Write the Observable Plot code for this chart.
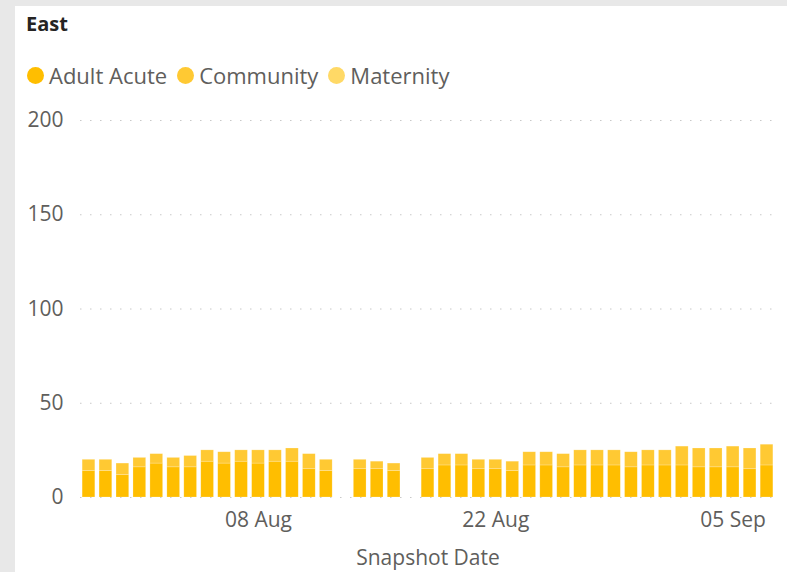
<!DOCTYPE html>
<html>
<head>
<meta charset="utf-8">
<script src="https://cdn.jsdelivr.net/npm/d3@7"></script>
<script src="https://cdn.jsdelivr.net/npm/@observablehq/plot@0.6"></script>
<style>
html, body { margin: 0; padding: 0; width: 787px; height: 572px; overflow: hidden; background: #e8e8e8; font-family: "Open Sans", sans-serif; }
#panel { position: absolute; left: 15px; top: 6px; width: 772px; height: 566px; background: #ffffff; }
#title { position: absolute; left: 26px; top: 10px; font-weight: 700; font-size: 20px; color: #252423; }
#legend { position: absolute; left: 27px; top: 60px; display: flex; align-items: center; font-size: 22px; color: #605e5c; }
.item { display: flex; align-items: center; margin-right: 10px; }
.dot { width: 17px; height: 17px; border-radius: 50%; margin-right: 5px; }
#chart { position: absolute; left: 0; top: 100px; }
</style>
</head>
<body>
<div id="panel"></div>
<div id="title">East</div>
<div id="legend"></div>
<div id="chart"></div>
<script>
// ---- data ----
const dates = [
  "2021-07-29","2021-07-30","2021-07-31","2021-08-01","2021-08-02","2021-08-03","2021-08-04",
  "2021-08-05","2021-08-06","2021-08-07","2021-08-08","2021-08-09","2021-08-10","2021-08-11",
  "2021-08-12","2021-08-14","2021-08-15","2021-08-16","2021-08-18","2021-08-19","2021-08-20",
  "2021-08-21","2021-08-22","2021-08-23","2021-08-24","2021-08-25","2021-08-26","2021-08-27",
  "2021-08-28","2021-08-29","2021-08-30","2021-08-31","2021-09-01","2021-09-02","2021-09-03",
  "2021-09-04","2021-09-05","2021-09-06","2021-09-07"
];
const adultAcute = [14,14,12,16,18,16,16,19,18,19,18,19,19,15,14,15,15,14,15,17,17,15,15,14,17,17,16,17,17,17,16,17,17,17,16,16,16,15,17];
const community  = [ 6, 6, 6, 5, 5, 5, 6, 6, 6, 6, 7, 6, 7, 8, 6, 5, 4, 4, 6, 6, 6, 5, 5, 5, 7, 7, 7, 8, 8, 8, 8, 8, 8,10,10,10,11,11,11];
const maternity  = [ 0, 0, 0, 0, 0, 0, 0, 0, 0, 0, 0, 0, 0, 0, 0, 0, 0, 0, 0, 0, 0, 0, 0, 0, 0, 0, 0, 0, 0, 0, 0, 0, 0, 0, 0, 0, 0, 0, 0];
const categories = ["Adult Acute", "Community", "Maternity"];
const colors = ["#FFBE00", "#FFC933", "#FFD966"];
const yTicks = [0, 50, 100, 150, 200];
const xTickDates = ["2021-08-08", "2021-08-22", "2021-09-05"];
const firstDay = "2021-07-29";
const lastDay = "2021-09-07";

// ---- build ----
const parse = d3.utcParse("%Y-%m-%d");
const series = [adultAcute, community, maternity];
const rows = dates.flatMap((d, i) => categories.map((c, j) => ({date: parse(d), category: c, value: series[j][i]})));
const allDays = d3.utcDay.range(parse(firstDay), d3.utcDay.offset(parse(lastDay), 1));

const legend = document.getElementById("legend");
categories.forEach((c, i) => {
  const it = document.createElement("div"); it.className = "item";
  const dot = document.createElement("div"); dot.className = "dot"; dot.style.background = colors[i];
  const t = document.createElement("span"); t.textContent = c;
  it.appendChild(dot); it.appendChild(t); legend.appendChild(it);
});

const chart = Plot.plot({
  width: 787,
  height: 472,
  marginTop: 20,
  marginBottom: 75,
  marginLeft: 80,
  marginRight: 12,
  style: {fontFamily: "Open Sans, sans-serif", fontSize: "21px", color: "#605e5c", background: "transparent"},
  x: {type: "band", domain: allDays, paddingInner: 0.25, paddingOuter: 0.125},
  y: {domain: [0, 200]},
  color: {domain: categories, range: colors},
  marks: [
    Plot.gridY(yTicks, {stroke: "#c8c8c8", strokeOpacity: 1, strokeDasharray: "1.5,8.5"}),
    Plot.barY(rows, {x: "date", y: "value", fill: "category", stroke: "#fff", strokeOpacity: 0.35, strokeWidth: 0.6}),
    Plot.axisY({ticks: yTicks, tickSize: 0, tickPadding: 17, label: null, fontSize: 21}),
    Plot.axisX({ticks: xTickDates.map(parse), tickFormat: d3.utcFormat("%d %b"), tickSize: 0, tickPadding: 15, fontSize: 21,
      label: "Snapshot Date", labelAnchor: "center", labelOffset: 67, labelArrow: "none"})
  ]
});
document.getElementById("chart").appendChild(chart);
</script>
</body>
</html>
